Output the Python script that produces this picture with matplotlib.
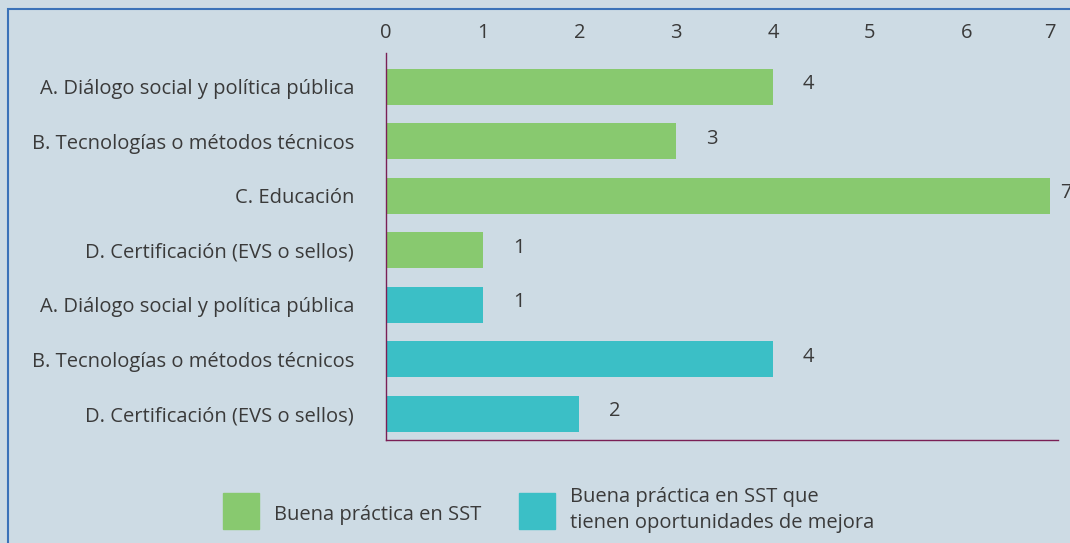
import matplotlib.pyplot as plt
from matplotlib.patches import Rectangle

# Data (top to bottom).
BUENA_LABELS = [
    "A. Diálogo social y política pública",
    "B. Tecnologías o métodos técnicos",
    "C. Educación",
    "D. Certificación (EVS o sellos)",
]
BUENA_VALUES = [4, 3, 7, 1]

MEJORA_LABELS = [
    "A. Diálogo social y política pública",
    "B. Tecnologías o métodos técnicos",
    "D. Certificación (EVS o sellos)",
]
MEJORA_VALUES = [1, 4, 2]

SERIES_NAMES = ["Buena práctica en SST", "Buena práctica en SST que\ntienen oportunidades de mejora"]
TICK_LABELS = ["0", "1", "2", "3", "4", "5", "6", "7"]

GREEN = "#88c96f"
TEAL = "#3bbfc6"
BG = "#cddbe4"
TEXT = "#3a3a3a"
SPINE = "#7a1f55"
FRAME = "#3b72b8"
FS = 14.5

plt.rcParams["font.family"] = ["Open Sans", "DejaVu Sans"]

fig = plt.figure(figsize=(10.7, 5.43), dpi=100)
fig.patch.set_facecolor(BG)

# outer blue frame (runs off the right/bottom edge)
fig.add_artist(Rectangle((8 / 1070, -0.1), 1.2, 1 - 9 / 543 + 0.1,
                         transform=fig.transFigure, fill=False,
                         edgecolor=FRAME, linewidth=1.5))

ax = fig.add_axes([386 / 1070, 1 - 440 / 543, (1058 - 386) / 1070, (440 - 53) / 543])
ax.set_facecolor(BG)

labels = BUENA_LABELS + MEJORA_LABELS
values = BUENA_VALUES + MEJORA_VALUES
colors = [GREEN] * len(BUENA_VALUES) + [TEAL] * len(MEJORA_VALUES)
ypos = list(range(len(labels)))

# the source plot area is a bit narrower than 7 units, so the top bar is cut
xmax = 6.946
plot_edge = 6.86
bars = ax.barh(ypos, values, height=0.66, color=colors)
clip = Rectangle((0, 0), plot_edge / xmax, 1, transform=ax.transAxes)
for b in bars:
    b.set_clip_path(clip)

for y, v in zip(ypos, values):
    ax.text(min(v + 0.31, 6.97), y - 0.05, str(v), ha="left", va="center",
            fontsize=FS, color=TEXT, clip_on=False)

ax.set_xlim(0, xmax)
ax.set_ylim(len(labels) - 0.52, -0.62)
ax.set_yticks(ypos)
ax.set_yticklabels(labels)
ax.set_xticks(list(range(len(TICK_LABELS) - 1)) + [plot_edge])
ax.set_xticklabels(TICK_LABELS)
ax.xaxis.tick_top()
ax.tick_params(axis="both", length=0, labelsize=FS, colors=TEXT)
ax.tick_params(axis="x", pad=7)
ax.tick_params(axis="y", pad=23)

for side in ("top", "right"):
    ax.spines[side].set_visible(False)
for side in ("left", "bottom"):
    ax.spines[side].set_color(SPINE)
    ax.spines[side].set_linewidth(1)

# legend drawn as boxes + text in figure pixels
for x0, color, name, ty in [(223, GREEN, SERIES_NAMES[0], 515),
                            (519, TEAL, SERIES_NAMES[1], 510)]:
    fig.add_artist(Rectangle((x0 / 1070, 1 - 529 / 543), 36 / 1070, 36 / 543,
                             transform=fig.transFigure, color=color))
    fig.text((x0 + 51) / 1070, 1 - ty / 543, name, ha="left", va="center",
             fontsize=FS, color=TEXT, linespacing=1.45)

fig.savefig("out.png", dpi=100, facecolor=BG)
